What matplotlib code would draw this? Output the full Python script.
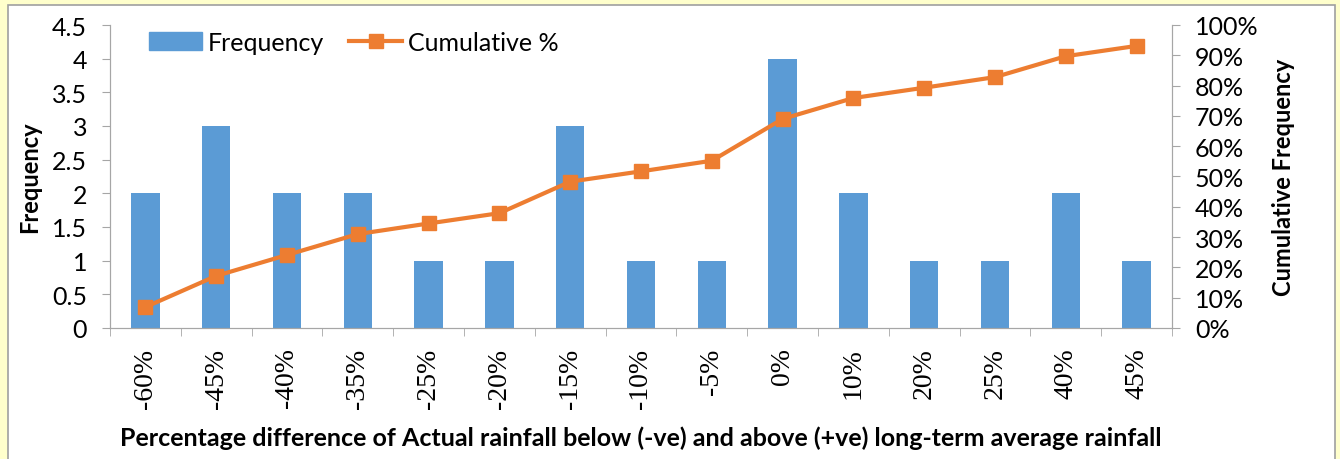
import matplotlib.pyplot as plt
from matplotlib.patches import Rectangle
from matplotlib.lines import Line2D
import numpy as np

categories = ['-60%', '-45%', '-40%', '-35%', '-25%', '-20%', '-15%', '-10%',
              '-5%', '0%', '10%', '20%', '25%', '40%', '45%']
frequency = [2, 3, 2, 2, 1, 1, 3, 1, 1, 4, 2, 1, 1, 2, 1]
cumulative = [6.9, 17.2, 24.1, 31.0, 34.5, 37.9, 48.3, 51.7, 55.2, 69.0,
              75.9, 79.3, 82.8, 89.7, 93.1]

plt.rcParams['font.family'] = ['Lato', 'DejaVu Sans']

fig = plt.figure(figsize=(13.4, 4.6), dpi=100)
fig.patch.set_facecolor('#FFFFCC')
# white panel with grey frame
fig.patches.append(Rectangle((8/1340, -0.05), (1335-8)/1340, 1.05 - 6/460,
                             transform=fig.transFigure, facecolor='white',
                             edgecolor='#A0A0A0', lw=1.2, zorder=-5))

ax = fig.add_axes([110/1340, 1 - 329/460, (1172-110)/1340, (329-26)/460])
ax.set_facecolor('none')
x = np.arange(len(categories))
ax.bar(x, frequency, width=0.4, color='#5B9BD5', zorder=2)
ax.set_xlim(-0.5, len(categories) - 0.5)
ax.set_ylim(0, 4.5)
ax.set_yticks(np.arange(0, 4.51, 0.5))
ax.set_yticklabels(['0', '0.5', '1', '1.5', '2', '2.5', '3', '3.5', '4', '4.5'])
ax.set_xticks(x)
ax.set_xticklabels(categories, rotation=90, family='Liberation Serif', fontsize=20)
ax.set_xticks(np.arange(-0.5, len(categories)), minor=True)
ax.tick_params(axis='x', which='major', length=0, pad=14)
ax.tick_params(axis='x', which='minor', length=6, color='#A6A6A6')
ax.tick_params(axis='y', length=5.5, color='#A6A6A6', labelsize=18, pad=11)
for s in ['left', 'bottom', 'right']:
    ax.spines[s].set_color('#A6A6A6')
ax.spines['top'].set_visible(False)
ax.set_ylabel('Frequency', fontsize=17, fontweight='bold', labelpad=8)
ax.set_xlabel('Percentage difference of Actual rainfall below (-ve) and above (+ve) long-term average rainfall',
              fontsize=18, fontweight='bold', labelpad=13)

ax2 = ax.twinx()
ax2.plot(x, cumulative, color='#ED7D31', lw=3, marker='s', markersize=10, zorder=3)
ax2.set_ylim(0, 100)
ax2.set_yticks(np.arange(0, 101, 10))
ax2.set_yticklabels([f'{v}%' for v in range(0, 101, 10)])
ax2.tick_params(axis='y', length=5.5, color='#A6A6A6', labelsize=18, pad=11)
for s in ['left', 'bottom', 'right']:
    ax2.spines[s].set_color('#A6A6A6')
ax2.spines['top'].set_visible(False)
ax2.set_ylabel('Cumulative Frequency', fontsize=17, fontweight='bold', labelpad=10)

handles = [Rectangle((0, 0), 1, 1, color='#5B9BD5'),
           Line2D([0], [0], color='#ED7D31', lw=3, marker='s', markersize=10)]
ax.legend(handles, ['Frequency', 'Cumulative %'], loc='upper left', ncol=2,
          frameon=False, fontsize=18, bbox_to_anchor=(0.016, 1.055),
          handlelength=2.1, handletextpad=0.25, columnspacing=1.0)

fig.savefig('out.png', dpi=100, facecolor=fig.get_facecolor())
